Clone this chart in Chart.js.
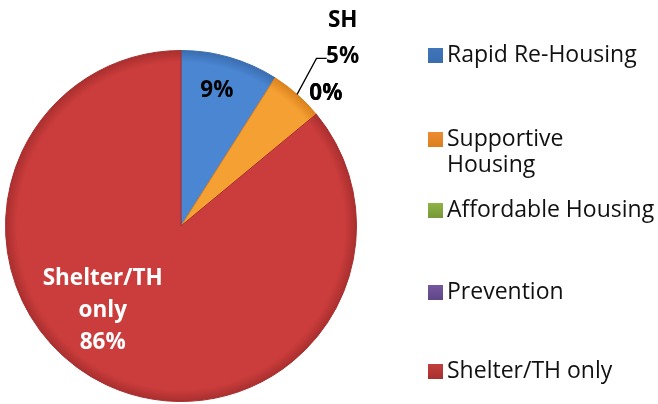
<!DOCTYPE html>
<html>
<head>
<meta charset="utf-8">
<script src="https://cdn.jsdelivr.net/npm/chart.js@4"></script>
<style>
  html, body { margin: 0; padding: 0; background: #fff; }
  #wrap { width: 658px; height: 404px; }
</style>
</head>
<body>
<div id="wrap"><canvas id="pieChart"></canvas></div>
<script>
const categories = ["Rapid Re-Housing", "Supportive Housing", "Affordable Housing", "Prevention", "Shelter/TH only"];
const legendLines = [["Rapid Re-Housing"], ["Supportive", "Housing"], ["Affordable Housing"], ["Prevention"], ["Shelter/TH only"]];
const shares = [9, 5, 0, 0, 86];
const sliceLabels = [["9%"], ["SH", "5%"], ["0%"], ["0%"], ["Shelter/TH", "only", "86%"]];
const sliceColors = ["#4a86d2", "#f5a033", "#93b84f", "#7b5fa3", "#cb3d3c"];
const sliceEdges = ["#3a6cae", "#d9801c", "#76983a", "#5f4585", "#a82e2e"];
const legendColors = ["#3f75bb", "#ef8a35", "#8fb345", "#7558a0", "#c0403d"];

// where each label sits: angle clockwise from top (deg), distance as fraction of radius
const labelPlace = [
  { angle: 14.8, dist: 0.80, color: "#000" },
  { angle: 40.8, dist: 1.41, color: "#000" },
  { angle: 47.5, dist: 1.12, color: "#000" },
  { angle: 47.5, dist: 1.12, color: "#000" },
  { angle: 222.9, dist: 0.655, color: "#fff" }
];
const legendY = [55, 139, 210, 292, 371];

const FONT = "'Open Sans', sans-serif";

const labelsPlugin = {
  id: "sliceLabels",
  afterDatasetsDraw(chart) {
    const ctx = chart.ctx;
    const meta = chart.getDatasetMeta(0);
    const arc0 = meta.data[0];
    const cx = arc0.x, cy = arc0.y, r = arc0.outerRadius;

    // leader line for the SH slice
    const sh = meta.data[1];
    const mid = (sh.startAngle + sh.endAngle) / 2;
    const p0x = cx + Math.cos(mid) * r, p0y = cy + Math.sin(mid) * r;
    ctx.save();
    ctx.strokeStyle = "#000";
    ctx.lineWidth = 1.3;
    ctx.beginPath();
    ctx.moveTo(p0x, p0y);
    ctx.lineTo(cx + r * 0.772, cy - r * 0.955);
    ctx.lineTo(cx + r * 0.83, cy - r * 0.955);
    ctx.stroke();

    ctx.font = "bold 22.5px " + FONT;
    ctx.textAlign = "center";
    ctx.textBaseline = "middle";
    sliceLabels.forEach((lines, i) => {
      const p = labelPlace[i];
      const a = p.angle * Math.PI / 180;
      const x = cx + Math.sin(a) * r * p.dist;
      const y = cy - Math.cos(a) * r * p.dist;
      ctx.fillStyle = p.color;
      const lh = lines.length === 2 ? 36 : 32;
      lines.forEach((t, k) => {
        ctx.fillText(t, x, y + (k - (lines.length - 1) / 2) * lh);
      });
    });

    // legend
    ctx.font = "23px " + FONT;
    ctx.textAlign = "left";
    legendLines.forEach((lines, i) => {
      const y = legendY[i];
      const g = ctx.createLinearGradient(0, y - 7, 0, y + 8);
      g.addColorStop(0, legendColors[i]);
      g.addColorStop(1, sliceEdges[i]);
      ctx.fillStyle = g;
      ctx.fillRect(428, y - 7, 15, 15);
      ctx.fillStyle = "#111";
      lines.forEach((t, k) => ctx.fillText(t, 447, y + k * 26));
    });
    ctx.restore();
  }
};

new Chart(document.getElementById("pieChart"), {
  type: "pie",
  data: {
    labels: categories,
    datasets: [{
      data: shares,
      backgroundColor: (c) => {
        const a = c.chart.chartArea;
        if (!a) return sliceColors[c.dataIndex];
        const x = (a.left + a.right) / 2, y = (a.top + a.bottom) / 2;
        const r = Math.min(a.right - a.left, a.bottom - a.top) / 2;
        const g = c.chart.ctx.createRadialGradient(x, y, 0, x, y, r);
        g.addColorStop(0, sliceColors[c.dataIndex]);
        g.addColorStop(0.93, sliceColors[c.dataIndex]);
        g.addColorStop(1, sliceEdges[c.dataIndex]);
        return g;
      },
      borderColor: sliceEdges,
      borderWidth: 1
    }]
  },
  options: {
    responsive: true,
    maintainAspectRatio: false,
    animation: false,
    layout: { padding: { left: 5, right: 301, top: 50, bottom: 2 } },
    plugins: {
      legend: { display: false },
      tooltip: { enabled: false }
    }
  },
  plugins: [labelsPlugin]
});
</script>
</body>
</html>
